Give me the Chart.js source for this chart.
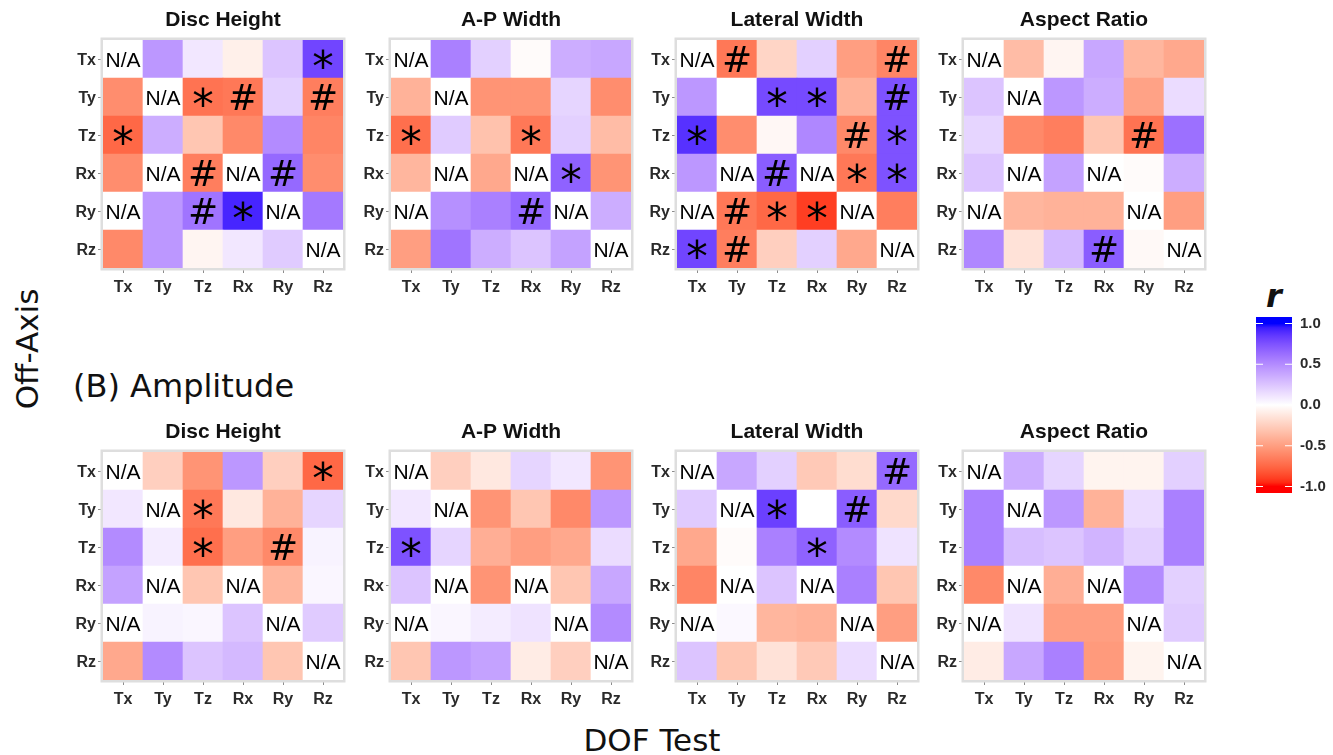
<!DOCTYPE html>
<html>
<head>
<meta charset="utf-8">
<script src="https://cdn.jsdelivr.net/npm/chart.js@4.4.1/dist/chart.umd.min.js"></script>
<style>
  body { margin: 0; background: #ffffff; }
  #fig { position: relative; width: 1333px; height: 755px; overflow: hidden; background: #ffffff; }
  #fig canvas { position: absolute; }
  .lab { position: absolute; white-space: nowrap; color: #111; font-family: "DejaVu Sans", sans-serif; line-height: 1; }
</style>
</head>
<body>
<div id="fig">
  <div class="lab" style="left:27px; top:349px; font-size:31px; transform: translate(-50%,-50%) rotate(-90deg);">Off-Axis</div>
  <div class="lab" style="left:73px; top:386px; font-size:32px; transform: translateY(-50%);">(B) Amplitude</div>
  <div class="lab" style="left:652px; top:740px; font-size:31px; transform: translate(-50%,-50%);">DOF Test</div>
  <div class="lab" style="left:1274px; top:296px; font-size:32px; font-weight:bold; font-style:italic; transform: translate(-50%,-50%);">r</div>
</div>
<script>
// Degree-of-freedom labels: columns are the tested DOF, rows the off-axis DOF
const dofTest = ['Tx', 'Ty', 'Tz', 'Rx', 'Ry', 'Rz'];
const offAxis = ['Tx', 'Ty', 'Tz', 'Rx', 'Ry', 'Rz'];
const measures = ['Disc Height', 'A-P Width', 'Lateral Width', 'Aspect Ratio'];
const legendTicks = [-1, -0.5, 0, 0.5, 1];

// Correlation coefficients r (null = not applicable), upper row of panels
const rA_disc = [
  [null, 0.45, 0.10, -0.08, 0.25, 0.80],
  [-0.58, null, -0.70, -0.68, 0.20, -0.65],
  [-0.75, 0.35, -0.30, -0.60, 0.50, -0.62],
  [-0.58, null, -0.65, null, 0.65, -0.58],
  [null, 0.45, 0.60, 0.92, null, 0.58],
  [-0.60, 0.45, -0.05, 0.10, 0.22, null]
];
const rA_ap = [
  [null, 0.55, 0.20, -0.02, 0.35, 0.38],
  [-0.40, null, -0.55, -0.55, 0.18, -0.58],
  [-0.72, 0.22, -0.32, -0.68, 0.20, -0.35],
  [-0.38, null, -0.45, null, 0.68, -0.55],
  [null, 0.48, 0.55, 0.65, null, 0.35],
  [-0.50, 0.60, 0.35, 0.25, 0.40, null]
];
const rA_lat = [
  [null, -0.68, -0.22, 0.20, -0.50, -0.62],
  [0.45, 0.00, 0.78, 0.78, -0.40, 0.75],
  [0.88, -0.58, -0.04, 0.52, -0.60, 0.75],
  [0.45, null, 0.70, null, -0.68, 0.75],
  [null, -0.68, -0.75, -0.90, null, -0.65],
  [0.80, -0.65, -0.25, 0.20, -0.45, null]
];
const rA_asp = [
  [null, -0.35, -0.05, 0.38, -0.38, -0.45],
  [0.25, null, 0.45, 0.35, -0.48, 0.15],
  [0.18, -0.60, -0.65, -0.30, -0.70, 0.62],
  [0.25, null, 0.40, null, -0.02, 0.35],
  [null, -0.38, -0.40, -0.40, null, -0.50],
  [0.52, -0.15, 0.30, 0.70, -0.03, null]
];

// Correlation coefficients r, (B) Amplitude panels
const rB_disc = [
  [null, -0.25, -0.55, 0.45, -0.25, -0.75],
  [0.10, null, -0.68, -0.12, -0.40, 0.18],
  [0.50, 0.08, -0.72, -0.50, -0.60, 0.05],
  [0.40, null, -0.30, null, -0.38, 0.04],
  [null, 0.05, 0.04, 0.25, null, 0.22],
  [-0.45, 0.50, 0.25, 0.30, -0.30, null]
];
const rB_ap = [
  [null, -0.25, -0.12, 0.18, 0.10, -0.55],
  [0.10, null, -0.55, -0.30, -0.60, 0.45],
  [0.75, 0.18, -0.42, -0.50, -0.45, 0.15],
  [0.25, null, -0.55, null, -0.30, 0.38],
  [null, 0.04, 0.08, 0.12, null, 0.50],
  [-0.30, 0.45, 0.40, -0.10, -0.25, null]
];
const rB_lat = [
  [null, 0.38, 0.20, -0.28, -0.18, 0.65],
  [0.22, null, 0.82, 0.00, 0.70, -0.20],
  [-0.45, -0.02, 0.55, 0.68, 0.50, 0.12],
  [-0.62, null, 0.25, null, 0.55, -0.30],
  [null, 0.03, -0.38, -0.40, null, -0.50],
  [0.25, -0.30, -0.15, -0.28, 0.15, null]
];
const rB_asp = [
  [null, 0.35, 0.18, -0.06, -0.06, 0.20],
  [0.55, null, 0.45, -0.40, 0.15, 0.55],
  [0.55, 0.28, 0.25, 0.32, 0.20, 0.55],
  [-0.60, null, -0.42, null, 0.50, 0.20],
  [null, 0.12, -0.50, -0.50, null, 0.22],
  [-0.10, 0.38, 0.55, -0.52, -0.06, null]
];

// Significance marks per cell ('*' or '#', '' = none)
const sA_disc = [
  ['', '', '', '', '', '*'],
  ['', '', '*', '#', '', '#'],
  ['*', '', '', '', '', ''],
  ['', '', '#', '', '#', ''],
  ['', '', '#', '*', '', ''],
  ['', '', '', '', '', '']
];
const sA_ap = [
  ['', '', '', '', '', ''],
  ['', '', '', '', '', ''],
  ['*', '', '', '*', '', ''],
  ['', '', '', '', '*', ''],
  ['', '', '', '#', '', ''],
  ['', '', '', '', '', '']
];
const sA_lat = [
  ['', '#', '', '', '', '#'],
  ['', '', '*', '*', '', '#'],
  ['*', '', '', '', '#', '*'],
  ['', '', '#', '', '*', '*'],
  ['', '#', '*', '*', '', ''],
  ['*', '#', '', '', '', '']
];
const sA_asp = [
  ['', '', '', '', '', ''],
  ['', '', '', '', '', ''],
  ['', '', '', '', '#', ''],
  ['', '', '', '', '', ''],
  ['', '', '', '', '', ''],
  ['', '', '', '#', '', '']
];
const sB_disc = [
  ['', '', '', '', '', '*'],
  ['', '', '*', '', '', ''],
  ['', '', '*', '', '#', ''],
  ['', '', '', '', '', ''],
  ['', '', '', '', '', ''],
  ['', '', '', '', '', '']
];
const sB_ap = [
  ['', '', '', '', '', ''],
  ['', '', '', '', '', ''],
  ['*', '', '', '', '', ''],
  ['', '', '', '', '', ''],
  ['', '', '', '', '', ''],
  ['', '', '', '', '', '']
];
const sB_lat = [
  ['', '', '', '', '', '#'],
  ['', '', '*', '', '#', ''],
  ['', '', '', '*', '', ''],
  ['', '', '', '', '', ''],
  ['', '', '', '', '', ''],
  ['', '', '', '', '', '']
];
const sB_asp = [
  ['', '', '', '', '', ''],
  ['', '', '', '', '', ''],
  ['', '', '', '', '', ''],
  ['', '', '', '', '', ''],
  ['', '', '', '', '', ''],
  ['', '', '', '', '', '']
];

// ---- diverging red-white-blue fill, interpolated in CIE Lab ----
const WHITE_XYZ = [0.95047, 1.0, 1.08883];
function hexToLab(hex) {
  const c = [1, 3, 5].map(i => parseInt(hex.substr(i, 2), 16) / 255)
    .map(u => (u <= 0.04045 ? u / 12.92 : Math.pow((u + 0.055) / 1.055, 2.4)));
  const X = 0.4124 * c[0] + 0.3576 * c[1] + 0.1805 * c[2];
  const Y = 0.2126 * c[0] + 0.7152 * c[1] + 0.0722 * c[2];
  const Z = 0.0193 * c[0] + 0.1192 * c[1] + 0.9505 * c[2];
  const f = t => (t > 0.008856 ? Math.cbrt(t) : 7.787 * t + 16 / 116);
  const fx = f(X / WHITE_XYZ[0]), fy = f(Y / WHITE_XYZ[1]), fz = f(Z / WHITE_XYZ[2]);
  return [116 * fy - 16, 500 * (fx - fy), 200 * (fy - fz)];
}
function labToRgb(L, a, b) {
  const fy = (L + 16) / 116, fx = fy + a / 500, fz = fy - b / 200;
  const inv = t => (t * t * t > 0.008856 ? t * t * t : (t - 16 / 116) / 7.787);
  const X = inv(fx) * WHITE_XYZ[0], Y = inv(fy) * WHITE_XYZ[1], Z = inv(fz) * WHITE_XYZ[2];
  const lin = [
    3.2406 * X - 1.5372 * Y - 0.4986 * Z,
    -0.9689 * X + 1.8758 * Y + 0.0415 * Z,
    0.0557 * X - 0.2040 * Y + 1.0570 * Z
  ];
  const g = lin.map(u => (u <= 0.0031308 ? 12.92 * u : 1.055 * Math.pow(u, 1 / 2.4) - 0.055))
    .map(u => Math.round(255 * Math.min(1, Math.max(0, u))));
  return 'rgb(' + g.join(',') + ')';
}
const LAB_LOW = hexToLab('#FF0000');
const LAB_MID = hexToLab('#FFFFFF');
const LAB_HIGH = hexToLab('#0000FF');
function fillFor(v) {
  if (v === null || v === undefined) return '#ffffff';
  const t = Math.min(1, Math.abs(v));
  const end = v < 0 ? LAB_LOW : LAB_HIGH;
  return labToRgb(
    LAB_MID[0] + (end[0] - LAB_MID[0]) * t,
    LAB_MID[1] + (end[1] - LAB_MID[1]) * t,
    LAB_MID[2] + (end[2] - LAB_MID[2]) * t
  );
}

Chart.defaults.font.family = '"Liberation Sans", Arial, sans-serif';
Chart.defaults.animation = false;
Chart.defaults.responsive = false;
Chart.defaults.devicePixelRatio = 1;

// light gray frame around each heat-map panel
const panelFrame = {
  id: 'panelFrame',
  afterDraw(chart) {
    const { left, top, right, bottom } = chart.chartArea;
    const ctx = chart.ctx;
    ctx.save();
    ctx.strokeStyle = '#dedede';
    ctx.lineWidth = 2.5;
    ctx.strokeRect(left - 1.25, top - 1.25, right - left + 2.5, bottom - top + 2.5);
    ctx.restore();
  }
};

// cell annotations: N/A, * and #
const cellMarks = {
  id: 'cellMarks',
  afterDatasetsDraw(chart) {
    const ctx = chart.ctx;
    const meta = chart.getDatasetMeta(0);
    const data = chart.data.datasets[0].data;
    ctx.save();
    ctx.fillStyle = '#000';
    ctx.textAlign = 'center';
    ctx.textBaseline = 'alphabetic';
    meta.data.forEach((el, i) => {
      const mark = data[i].mark;
      if (!mark) return;
      const p = el.getCenterPoint();
      if (mark === 'N/A') ctx.font = '21px "Liberation Sans", Arial, sans-serif';
      else if (mark === '#') ctx.font = '36px "DejaVu Sans", sans-serif';
      else ctx.font = '43px "DejaVu Sans", sans-serif';
      const m = ctx.measureText(mark);
      const dy = (m.actualBoundingBoxAscent - m.actualBoundingBoxDescent) / 2;
      ctx.fillText(mark, p.x, p.y + dy);
    });
    ctx.restore();
  }
};

const Y_AXIS_W = 50;
const PLOT_W = 240;
const PLOT_H = 228;
const TITLE_H = 40;
const X_AXIS_H = 30;

function makePanel(plotLeft, plotTop, title, values, marks) {
  const canvas = document.createElement('canvas');
  const w = Y_AXIS_W + PLOT_W + 4;
  const h = TITLE_H + PLOT_H + X_AXIS_H;
  canvas.width = w;
  canvas.height = h;
  canvas.style.left = (plotLeft - Y_AXIS_W) + 'px';
  canvas.style.top = (plotTop - TITLE_H) + 'px';
  document.getElementById('fig').appendChild(canvas);

  const cells = [];
  values.forEach((row, r) => row.forEach((v, c) => {
    cells.push({ x: dofTest[c], y: [r - 0.5, r + 0.5], r: v, mark: v === null ? 'N/A' : marks[r][c] });
  }));

  const tickGrid = { display: true, drawOnChartArea: false, drawTicks: true, tickLength: 5, color: '#8c8c8c', lineWidth: 1, offset: false };
  const tickFont = { size: 16, weight: 'bold' };

  return new Chart(canvas, {
    type: 'bar',
    data: {
      labels: dofTest,
      datasets: [{
        data: cells,
        backgroundColor: c => fillFor(c.raw ? c.raw.r : null),
        borderWidth: 0,
        barPercentage: 1,
        categoryPercentage: 1
      }]
    },
    options: {
      layout: { padding: { left: 0, right: 4, top: 0, bottom: 0 } },
      plugins: {
        legend: { display: false },
        tooltip: { enabled: false },
        title: {
          display: true,
          text: title,
          fullSize: false,
          color: '#111',
          font: { size: 21, weight: 'bold' },
          padding: { top: 8, bottom: 6.8 }
        }
      },
      scales: {
        x: {
          type: 'category',
          offset: true,
          grid: tickGrid,
          border: { display: false },
          ticks: { color: '#2a2a2a', font: tickFont, padding: 5, maxRotation: 0 },
          afterFit: s => { s.height = X_AXIS_H; }
        },
        y: {
          type: 'linear',
          min: -0.5,
          max: 5.5,
          reverse: true,
          grid: tickGrid,
          border: { display: false },
          afterBuildTicks: s => { s.ticks = offAxis.map((_, i) => ({ value: i })); },
          ticks: { color: '#2a2a2a', font: tickFont, padding: 2, labelOffset: 2, callback: v => offAxis[v] },
          afterFit: s => { s.width = Y_AXIS_W; }
        }
      }
    },
    plugins: [panelFrame, cellMarks]
  });
}

const panelLefts = [103, 391, 677, 964];
const rowA = [rA_disc, rA_ap, rA_lat, rA_asp];
const rowAMarks = [sA_disc, sA_ap, sA_lat, sA_asp];
const rowB = [rB_disc, rB_ap, rB_lat, rB_asp];
const rowBMarks = [sB_disc, sB_ap, sB_lat, sB_asp];
measures.forEach((m, i) => {
  makePanel(panelLefts[i], 40, m, rowA[i], rowAMarks[i]);
  makePanel(panelLefts[i], 452, m, rowB[i], rowBMarks[i]);
});

// ---- colour bar legend for r ----
(function makeColorbar() {
  const canvas = document.createElement('canvas');
  canvas.width = 83;
  canvas.height = 210;
  canvas.style.left = '1250px';
  canvas.style.top = '300px';
  document.getElementById('fig').appendChild(canvas);

  const barFill = {
    id: 'barFill',
    beforeDatasetsDraw(chart) {
      const { left, top, right, bottom } = chart.chartArea;
      const ys = chart.scales.y;
      const ctx = chart.ctx;
      const grad = ctx.createLinearGradient(0, top, 0, bottom);
      for (let k = 0; k <= 40; k++) {
        const v = -1 + k * 0.05;
        const pos = (ys.getPixelForValue(v) - top) / (bottom - top);
        grad.addColorStop(Math.min(1, Math.max(0, pos)), fillFor(v));
      }
      ctx.save();
      ctx.fillStyle = grad;
      ctx.fillRect(left, top, right - left, bottom - top);
      // white tick marks on both edges of the bar
      ctx.strokeStyle = '#ffffff';
      ctx.lineWidth = 1.2;
      legendTicks.forEach(v => {
        const y = ys.getPixelForValue(v);
        ctx.beginPath();
        ctx.moveTo(left, y); ctx.lineTo(left + 7, y);
        ctx.moveTo(right - 7, y); ctx.lineTo(right, y);
        ctx.stroke();
      });
      ctx.restore();
    }
  };

  new Chart(canvas, {
    type: 'scatter',
    data: { datasets: [{ data: [] }] },
    options: {
      layout: { padding: { left: 6, right: 0, top: 13.3, bottom: 16.3 } },
      plugins: { legend: { display: false }, tooltip: { enabled: false } },
      scales: {
        x: { display: false, min: 0, max: 1 },
        y: {
          type: 'linear',
          position: 'right',
          min: -1.08,
          max: 1.08,
          grid: { display: false, drawTicks: false },
          border: { display: false },
          afterBuildTicks: s => { s.ticks = legendTicks.map(v => ({ value: v })); },
          ticks: { color: '#2a2a2a', font: { size: 15, weight: 'bold' }, padding: 8, callback: v => v.toFixed(1) },
          afterFit: s => { s.width = 41; }
        }
      }
    },
    plugins: [barFill]
  });
})();
</script>
</body>
</html>
